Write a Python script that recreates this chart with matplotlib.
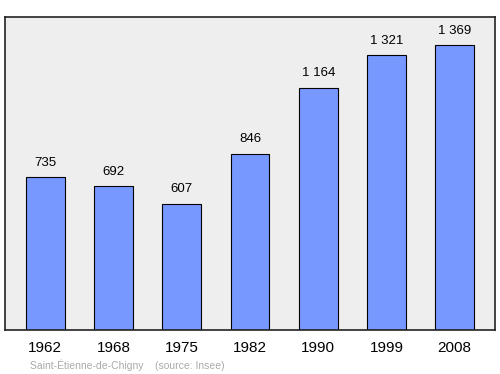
import matplotlib
matplotlib.use('Agg')
import matplotlib.pyplot as plt

years = ['1962', '1968', '1975', '1982', '1990', '1999', '2008']
population = [735, 692, 607, 846, 1164, 1321, 1369]
value_labels = ['735', '692', '607', '846', '1 164', '1 321', '1 369']

plt.rcParams['font.family'] = ['Liberation Sans', 'DejaVu Sans']

fig = plt.figure(figsize=(5, 3.74), dpi=100)
ax = fig.add_axes([0.01, 0.1176, 0.98, 0.837])
ax.set_facecolor('#eeeeee')

x = range(len(years))
ax.bar(x, population, width=0.57, color='#7799ff', edgecolor='black', linewidth=0.8)

for xi, v, lab in zip(x, population, value_labels):
    ax.text(xi, v + 40, lab, ha='center', va='bottom', fontsize=9.5)

ax.set_xlim(-0.59, 6.59)
ax.set_ylim(0, 1503)
ax.set_xticks(list(x))
ax.set_xticklabels(years, fontsize=11)
ax.set_yticks([])
ax.tick_params(axis='x', length=0, pad=8)
for s in ax.spines.values():
    s.set_color('#222222')
    s.set_linewidth(1.2)

fig.text(0.06, 0.013, 'Saint-Étienne-de-Chigny    (source: Insee)', fontsize=7.5, color='#aaaaaa')

fig.savefig('out.png', dpi=100)
